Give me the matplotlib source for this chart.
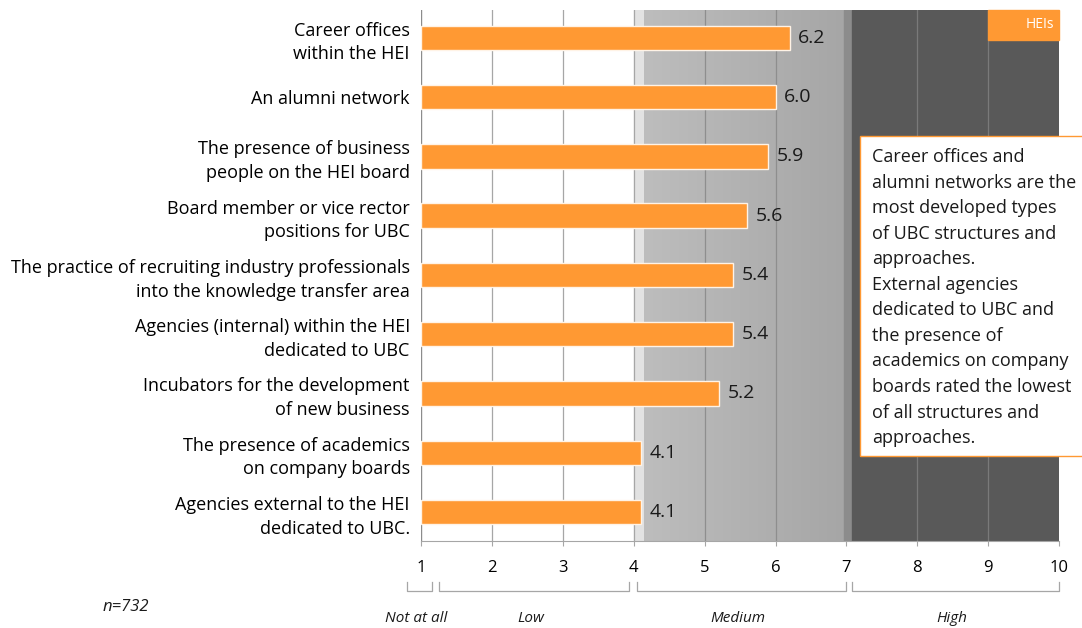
import numpy as np
import matplotlib
matplotlib.use("Agg")
import matplotlib.pyplot as plt
from matplotlib.patches import Rectangle

plt.rcParams['font.family'] = ['Open Sans', 'DejaVu Sans']

# structures and approaches, top to bottom
labels = ["Career offices\nwithin the HEI",
          "An alumni network",
          "The presence of business\npeople on the HEI board",
          "Board member or vice rector\npositions for UBC",
          "The practice of recruiting industry professionals\ninto the knowledge transfer area",
          "Agencies (internal) within the HEI\ndedicated to UBC",
          "Incubators for the development\nof new business",
          "The presence of academics\non company boards",
          "Agencies external to the HEI\ndedicated to UBC."]
scores = [6.2, 6.0, 5.9, 5.6, 5.4, 5.4, 5.2, 4.1, 4.1]

scale_ticks = [1, 2, 3, 4, 5, 6, 7, 8, 9, 10]
bands = ["Not at all", "Low", "Medium", "High"]
band_spans = [(0.8, 1.155), (1.25, 3.94), (4.04, 7.0), (7.08, 10.0)]

note = ("Career offices and\nalumni networks are the\nmost developed types\n"
        "of UBC structures and\napproaches.\nExternal agencies\n"
        "dedicated to UBC and\nthe presence of\nacademics on company\n"
        "boards rated the lowest\nof all structures and\napproaches.")

orange = "#FF9933"
fs = 12

fig = plt.figure(figsize=(10.82, 6.28), dpi=100)
ax = fig.add_axes([0.389, 0.1385, 0.590, 0.8456])
ax.set_xlim(1, 10)
ax.set_ylim(8.49, -0.47)

# background zones: medium gradient and dark high zone
ax.axvspan(4.0, 4.14, color="#e2e2e2", zorder=0)
grad = np.linspace(0, 1, 256).reshape(1, -1)
ax.imshow(grad, extent=[4.14, 6.96, 8.49, -0.47], aspect="auto",
          cmap=matplotlib.colors.LinearSegmentedColormap.from_list("g", ["#bdbdbd", "#a6a6a6"]),
          zorder=0)
ax.axvspan(6.96, 7.08, color="#8c8c8c", zorder=0)
ax.axvspan(7.08, 10, color="#595959", zorder=0)

for x in [2, 3, 4]:
    ax.axvline(x, color="#a6a6a6", lw=0.9, zorder=1)
for x in [5, 6]:
    ax.axvline(x, color="#8e8e8e", lw=0.9, zorder=1)
for x in [8, 9]:
    ax.axvline(x, color="#7a7a7a", lw=0.9, zorder=1)
ax.axvline(1, color="#8c8c8c", lw=1.0, zorder=1)

ypos = np.arange(len(scores))
ax.barh(ypos, np.array(scores) - 1, left=1, height=0.41, color=orange,
        edgecolor="#fff3e6", linewidth=1.0, zorder=3)
for y, v in zip(ypos, scores):
    ax.text(v + 0.12, y, f"{v:.1f}", va="center", ha="left", fontsize=14,
            color="#1a1a1a", zorder=4)

ax.set_yticks(ypos)
ax.set_yticklabels(labels, fontsize=13, linespacing=1.4)
ax.tick_params(axis="y", length=0, pad=8)
ax.set_xticks(scale_ticks)
ax.set_xticklabels([str(t) for t in scale_ticks], fontsize=fs)
ax.tick_params(axis="x", length=3.5, color="#a6a6a6", pad=10)
for s in ["top", "right", "left"]:
    ax.spines[s].set_visible(False)
ax.spines["bottom"].set_color("#a6a6a6")

# legend box
ax.add_patch(Rectangle((9.0, -0.47), 1.0, 0.5, color=orange, zorder=5, clip_on=False))
ax.text(9.93, -0.22, "HEIs", color="white", ha="right", va="center", fontsize=10, zorder=6)

# bracket rows under the scale
trans = ax.get_xaxis_transform()
for (a, b), name in zip(band_spans, bands):
    ax.plot([a, a, b, b], [-0.077, -0.094, -0.094, -0.077], transform=trans,
            color="#a6a6a6", lw=0.9, clip_on=False)
    ax.text((a + b) / 2 - 0.05, -0.145, name, transform=trans, ha="center", va="center",
            fontsize=fs - 1, style="italic", color="#1a1a1a")

fig.text(0.116, 0.033, "n=732", fontsize=fs, style="italic", ha="center", va="center",
         color="#1a1a1a")

# comment box on the right
fig.patches.append(Rectangle((860 / 1082, 1 - 456 / 628), 0.3, 320 / 628,
                             transform=fig.transFigure, facecolor="white",
                             edgecolor=orange, lw=1.0, zorder=10))
fig.text(872 / 1082, 1 - 148 / 628, note, fontsize=13, ha="left", va="top",
         linespacing=1.54, color="#1a1a1a", zorder=11)

fig.savefig("out.png", dpi=100)
